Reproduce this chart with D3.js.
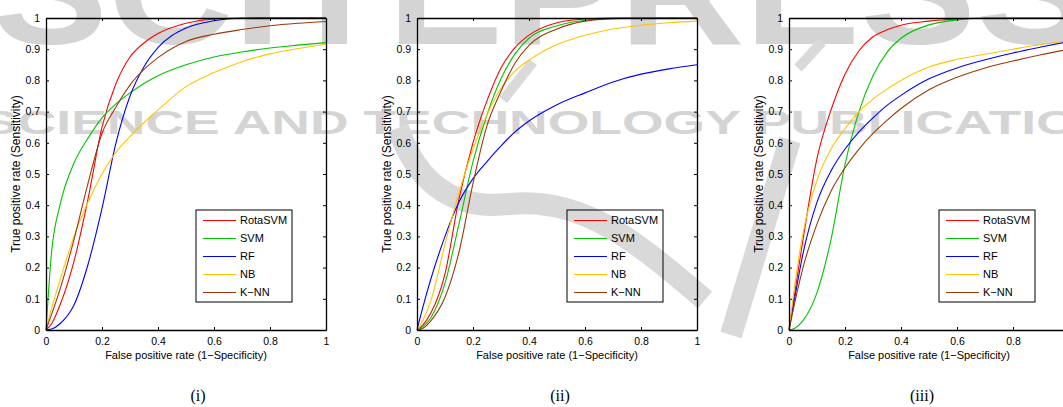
<!DOCTYPE html>
<html>
<head>
<meta charset="utf-8">
<script src="https://cdn.jsdelivr.net/npm/d3@7"></script>
<style>
  body { margin: 0; background: #fff; }
  svg { display: block; font-family: "Liberation Sans", Arial, sans-serif; }
</style>
</head>
<body>
<script>
// ROC curves, three data sets
var fpr = [0, 0.02, 0.05, 0.1, 0.15, 0.2, 0.25, 0.3, 0.35, 0.4, 0.5, 0.6, 0.7, 0.8, 0.9, 1];

var methods = ["RotaSVM", "SVM", "RF", "NB", "K\u2212NN"];
var captions = ["(i)", "(ii)", "(iii)"];
var xTicks = [0, 0.2, 0.4, 0.6, 0.8, 1];
var yTicks = [0, 0.1, 0.2, 0.3, 0.4, 0.5, 0.6, 0.7, 0.8, 0.9, 1];

// (i)
var rotaSvmI = [0, 0.02, 0.08, 0.22, 0.42, 0.65, 0.79, 0.875, 0.92, 0.95, 0.983, 0.997, 1, 1, 1, 1];
var svmI     = [0, 0.25, 0.4, 0.535, 0.615, 0.68, 0.725, 0.76, 0.79, 0.815, 0.85, 0.875, 0.891, 0.904, 0.913, 0.921];
var rfI      = [0, 0.003, 0.02, 0.08, 0.21, 0.39, 0.6, 0.75, 0.844, 0.905, 0.968, 0.991, 0.999, 1, 1, 1];
var nbI      = [0, 0.07, 0.16, 0.3, 0.41, 0.5, 0.57, 0.62, 0.665, 0.705, 0.78, 0.825, 0.86, 0.885, 0.902, 0.916];
var knnI     = [0, 0.05, 0.13, 0.29, 0.47, 0.63, 0.715, 0.785, 0.835, 0.873, 0.925, 0.948, 0.963, 0.975, 0.983, 0.989];

// (ii)
var rotaSvmII = [0, 0.015, 0.055, 0.18, 0.42, 0.6, 0.735, 0.84, 0.905, 0.945, 0.985, 0.997, 1, 1, 1, 1];
var svmII     = [0, 0.01, 0.04, 0.15, 0.34, 0.54, 0.69, 0.805, 0.885, 0.935, 0.975, 0.993, 0.999, 1, 1, 1];
var rfII      = [0, 0.07, 0.165, 0.3, 0.41, 0.485, 0.54, 0.59, 0.635, 0.67, 0.722, 0.76, 0.795, 0.82, 0.837, 0.85];
var nbII      = [0, 0.03, 0.095, 0.275, 0.44, 0.58, 0.69, 0.775, 0.83, 0.865, 0.915, 0.945, 0.965, 0.977, 0.985, 0.99];
var knnII     = [0, 0.005, 0.03, 0.105, 0.25, 0.47, 0.655, 0.765, 0.855, 0.912, 0.965, 0.99, 0.998, 1, 1, 1];

// (iii)
var rotaSvmIII = [0, 0.115, 0.29, 0.55, 0.705, 0.82, 0.895, 0.94, 0.962, 0.977, 0.99, 0.997, 1, 1, 1, 1];
var svmIII     = [0, 0.005, 0.03, 0.12, 0.29, 0.53, 0.7, 0.815, 0.89, 0.935, 0.978, 0.994, 0.999, 1, 1, 1];
var rfIII      = [0, 0.1, 0.245, 0.41, 0.51, 0.58, 0.635, 0.68, 0.72, 0.752, 0.805, 0.84, 0.866, 0.888, 0.907, 0.925];
var nbIII      = [0, 0.14, 0.31, 0.48, 0.58, 0.645, 0.7, 0.74, 0.772, 0.8, 0.843, 0.867, 0.884, 0.9, 0.915, 0.927];
var knnIII     = [0, 0.085, 0.2, 0.34, 0.445, 0.52, 0.58, 0.63, 0.672, 0.71, 0.77, 0.81, 0.84, 0.862, 0.882, 0.9];

var panels = [
  [rotaSvmI, svmI, rfI, nbI, knnI],
  [rotaSvmII, svmII, rfII, nbII, knnII],
  [rotaSvmIII, svmIII, rfIII, nbIII, knnIII]
];

var colors = ["#ff0000", "#00c400", "#0000ff", "#ffc400", "#9a3a0a"];

var options = {
  width: 1063,
  height: 407,
  plotTop: 18,
  plotW: 280,
  plotH: 312,
  lefts: [46, 417, 789],
  captionX: [198, 560, 922]
};

var svg = d3.select("body").append("svg")
            .attr("width", options.width)
            .attr("height", options.height);

// publisher watermark, light grey, behind everything
var mark = svg.append("g").attr("fill", "#d4d4d4").style("font-weight", "bold");
mark.append("text")
    .attr("x", -8).attr("y", 44)
    .attr("textLength", 1100).attr("lengthAdjust", "spacingAndGlyphs")
    .style("font-size", "150px")
    .text("SCITEPRESS");
mark.append("text")
    .attr("x", -18).attr("y", 134)
    .attr("textLength", 1170).attr("lengthAdjust", "spacingAndGlyphs")
    .style("font-size", "33px")
    .text("SCIENCE AND TECHNOLOGY PUBLICATIONS");
// the swoosh of the logo, roughly
var swoosh = svg.append("g").attr("fill", "none").attr("stroke", "#d9d9d9").attr("stroke-linecap", "butt");
swoosh.append("path").attr("stroke-width", 22)
      .attr("d", "M398,128 C418,185 455,210 510,204 C585,196 640,245 705,300");
swoosh.append("path").attr("stroke-width", 22)
      .attr("d", "M790,140 L731,335");
swoosh.append("path").attr("stroke-width", 10)
      .attr("d", "M533,62 L503,100");
swoosh.append("path").attr("stroke-width", 10)
      .attr("d", "M822,42 L798,68");

var line = d3.line().curve(d3.curveMonotoneX);

var drawPanel = function(series, idx) {
  var left = options.lefts[idx];
  var x = d3.scaleLinear().domain([0, 1]).range([left, left + options.plotW]);
  var y = d3.scaleLinear().domain([0, 1]).range([options.plotTop + options.plotH, options.plotTop]);
  var g = svg.append("g");

  // curves
  line.x(function(d, j) { return x(fpr[j]); })
      .y(function(d) { return y(d); });
  series.forEach(function(vals, i) {
    g.append("path")
     .attr("d", line(vals))
     .attr("fill", "none")
     .attr("stroke", colors[i])
     .attr("stroke-width", 1.1);
  });

  // box with inward ticks on all sides (matlab style)
  var bottom = d3.axisBottom(x).tickValues(xTicks).tickSize(-3).tickSizeOuter(0).tickPadding(8)
                 .tickFormat(function(d) { return d3.format("")(d); });
  var top = d3.axisTop(x).tickValues(xTicks).tickSize(-3).tickSizeOuter(0).tickFormat("");
  var leftAx = d3.axisLeft(y).tickValues(yTicks).tickSize(-3).tickSizeOuter(0).tickPadding(6)
                 .tickFormat(function(d) { return d3.format("")(+d.toFixed(1)); });
  var rightAx = d3.axisRight(y).tickValues(yTicks).tickSize(-3).tickSizeOuter(0).tickFormat("");

  var axes = [
    g.append("g").attr("transform", "translate(0," + y(0) + ")").call(bottom),
    g.append("g").attr("transform", "translate(0," + y(1) + ")").call(top),
    g.append("g").attr("transform", "translate(" + x(0) + ",0)").call(leftAx),
    g.append("g").attr("transform", "translate(" + x(1) + ",0)").call(rightAx)
  ];
  axes.forEach(function(a) {
    a.select(".domain").attr("stroke", "#000").attr("stroke-width", 1.3);
    a.selectAll(".tick line").attr("stroke", "#000");
    a.selectAll("text").attr("fill", "#000").style("font-size", "10.5px")
     .style("font-family", "'Liberation Sans', Arial, sans-serif");
  });

  g.append("text")
   .attr("x", (x(0) + x(1)) / 2).attr("y", 359)
   .attr("text-anchor", "middle")
   .style("font-size", "11px")
   .text("False positive rate (1\u2212Specificity)");

  g.append("text")
   .attr("transform", "translate(" + (left - 26) + "," + (options.plotTop + options.plotH / 2) + ") rotate(-90)")
   .attr("text-anchor", "middle")
   .style("font-size", "12px")
   .text("True positive rate (Sensitivity)");

  // legend
  var lx = left + 150, ly = 210;
  var legend = g.append("g").attr("transform", "translate(" + lx + "," + ly + ")");
  legend.append("rect")
        .attr("width", 96).attr("height", 92)
        .attr("fill", "none").attr("stroke", "#000").attr("stroke-width", 1);
  methods.forEach(function(name, i) {
    var ry = 10.5 + i * 18;
    legend.append("line")
          .attr("x1", 7).attr("x2", 40).attr("y1", ry).attr("y2", ry)
          .attr("stroke", colors[i]).attr("stroke-width", 1.1);
    legend.append("text")
          .attr("x", 44).attr("y", ry).attr("dy", "0.36em")
          .style("font-size", "11px")
          .text(name);
  });

  svg.append("text")
     .attr("x", options.captionX[idx]).attr("y", 401)
     .attr("text-anchor", "middle")
     .style("font-family", "'Liberation Serif', 'Times New Roman', serif")
     .style("font-size", "16px")
     .text(captions[idx]);
};

panels.forEach(function(series, idx) {
  drawPanel(series, idx);
});
</script>
</body>
</html>
